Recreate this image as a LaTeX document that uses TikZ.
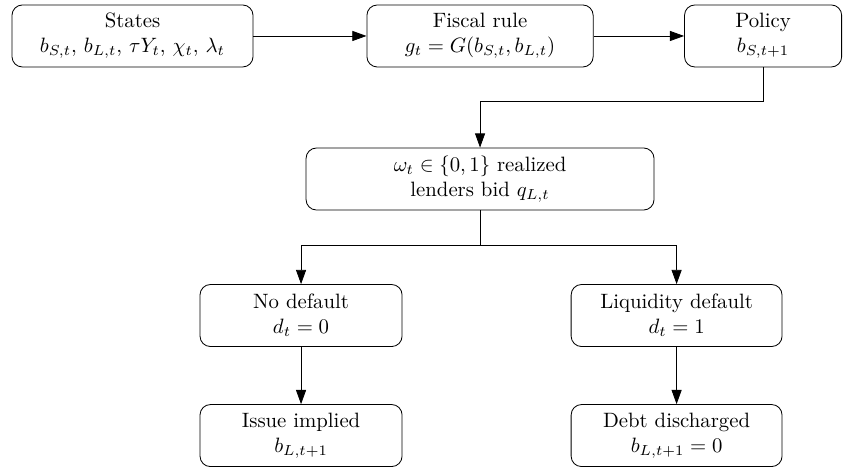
\documentclass[tikz,border=0pt]{standalone}
\usetikzlibrary{arrows.meta}

\begin{document}
\begin{tikzpicture}
  [every node/.style={draw,rounded corners=5pt,align=center,minimum height=1.05cm,inner sep=2pt},
   arr/.style={-{Triangle[length=2.4mm,width=1.7mm]}}]
  \useasboundingbox (0,0) rectangle (14.27,7.906);
  \node[minimum width=4.08cm] (st) at (2.243,7.297) {States\\ $b_{S,t},\, b_{L,t},\, \tau Y_t,\, \chi_t,\, \lambda_t$};
  \node[minimum width=3.83cm] (fr) at (8.126,7.297) {Fiscal rule\\ $g_t = G(b_{S,t}, b_{L,t})$};
  \node[minimum width=2.66cm] (po) at (12.917,7.297) {Policy\\ $b_{S,t+1}$};
  \node[minimum width=5.89cm] (om) at (8.126,4.876) {$\omega_t \in \{0,1\}$ realized\\ lenders bid $q_{L,t}$};
  \node[minimum width=3.42cm] (nd) at (5.096,2.565) {No default\\ $d_t = 0$};
  \node[minimum width=3.57cm] (ld) at (11.453,2.565) {Liquidity default\\ $d_t = 1$};
  \node[minimum width=3.42cm] (ii) at (5.096,0.533) {Issue implied\\ $b_{L,t+1}$};
  \node[minimum width=3.57cm] (dd) at (11.453,0.533) {Debt discharged\\ $b_{L,t+1} = 0$};
  \foreach \from/\to in {st/fr,fr/po}
    \draw[arr] (\from) -- (\to);
  \draw[arr] (po.south) -- ++(0,-0.576) -| (om.north);
  \draw[arr] (om.south) -- ++(0,-0.593) -| (nd.north);
  \draw[arr] (om.south) -- ++(0,-0.593) -| (ld.north);
  \foreach \from/\to in {nd/ii,ld/dd}
    \draw[arr] (\from) -- (\to);
\end{tikzpicture}
\end{document}
